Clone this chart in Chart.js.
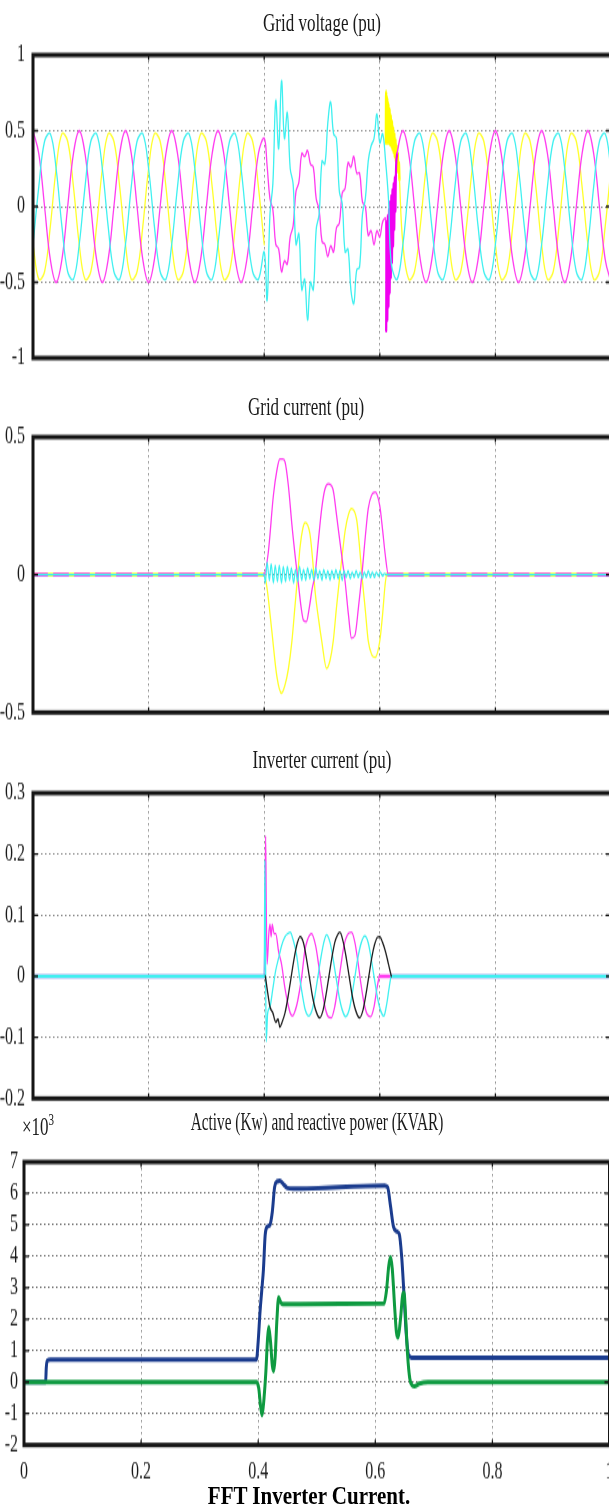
<!DOCTYPE html>
<html><head><meta charset="utf-8">
<script src="https://cdn.jsdelivr.net/npm/chart.js@4.4.1/dist/chart.umd.min.js"></script>
<style>
html,body{margin:0;padding:0;background:#fff;overflow:hidden;width:609px;height:1510px;}
#wrap{position:relative;width:609px;height:1510px;overflow:hidden;background:#fff;}
canvas{position:absolute;left:0;}
.t{position:absolute;z-index:5;white-space:nowrap;font-family:"Liberation Serif","Times New Roman",serif;font-size:17px;line-height:1;color:#1a1a1a;transform:translate(-50%,-50%) scaleY(1.5);}
.cap{position:absolute;z-index:5;white-space:nowrap;font-family:"Liberation Serif","Times New Roman",serif;font-weight:bold;font-size:21px;line-height:1;color:#000;transform:translate(-50%,-50%) scaleY(1.15);}
</style></head>
<body>
<div id="wrap">
  <div class="t" style="left:322px;top:23px">Grid voltage (pu)</div>
  <div class="t" style="left:306px;top:407px">Grid current (pu)</div>
  <div class="t" style="left:322px;top:760px">Inverter current (pu)</div>
  <div class="t" style="left:317px;top:1122px;transform:translate(-50%,-50%) scale(0.9,1.5)">Active (Kw) and reactive power (KVAR)</div>
  <div class="t" style="left:38px;top:1127px">×10<span style="font-size:11px;position:relative;top:-7px">3</span></div>
  <div class="cap" style="left:309px;top:1497px">FFT Inverter Current.</div>
</div>
<script>
// ================= DATA =================
// shared x (time, 0..1) tick values / labels
const xTickVals = [0, 0.2, 0.4, 0.6, 0.8, 1];
const xTickLabels = ['0', '0.2', '0.4', '0.6', '0.8', '1'];

// ---- Panel 1: Grid voltage (pu) ----
const gvTickVals = [-1, -0.5, 0, 0.5, 1];
const gvTickLabels = ['-1', '-0.5', '0', '0.5', '1'];
const tPre = [0,0.01,0.02,0.03,0.04,0.05,0.06,0.07,0.08,0.09,0.10,0.11,0.12,0.13,0.14,0.15,0.16,0.17,0.18,0.19,0.20,0.21,0.22,0.23,0.24,0.25,0.26,0.27,0.28,0.29,0.30,0.31,0.32,0.33,0.34,0.35,0.36,0.37,0.38,0.39,0.40];
const tFault = [0.405,0.410,0.415,0.420,0.425,0.430,0.435,0.440,0.445,0.450,0.455,0.460,0.465,0.470,0.475,0.480,0.485,0.490,0.495,0.500,0.505,0.510,0.515,0.520,0.525,0.530,0.535,0.540,0.545,0.550,0.555,0.560,0.565,0.570,0.575,0.580,0.585,0.590,0.595,0.600,0.605,0.610];
const tPost = [0.63,0.64,0.65,0.66,0.67,0.68,0.69,0.70,0.71,0.72,0.73,0.74,0.75,0.76,0.77,0.78,0.79,0.80,0.81,0.82,0.83,0.84,0.85,0.86,0.87,0.88,0.89,0.90,0.91,0.92,0.93,0.94,0.95,0.96,0.97,0.98,0.99,1.00];
const tYelPost = [0.64,0.65,0.66,0.67,0.68,0.69,0.70,0.71,0.72,0.73,0.74,0.75,0.76,0.77,0.78,0.79,0.80,0.81,0.82,0.83,0.84,0.85,0.86,0.87,0.88,0.89,0.90,0.91,0.92,0.93,0.94,0.95,0.96,0.97,0.98,0.99,1.00];

const vMagPre = [0.5,0.35,0,-0.35,-0.5,-0.35,0,0.35, 0.5,0.35,0,-0.35,-0.5,-0.35,0,0.35, 0.5,0.35,0,-0.35,-0.5,-0.35,0,0.35, 0.5,0.35,0,-0.35,-0.5,-0.35,0,0.35, 0.5,0.35,0,-0.35,-0.5,-0.35,0,0.35, 0.45];
const vCyaPre = [-0.25,0.13,0.43,0.48,0.25,-0.13,-0.43,-0.48, -0.25,0.13,0.43,0.48,0.25,-0.13,-0.43,-0.48, -0.25,0.13,0.43,0.48,0.25,-0.13,-0.43,-0.48, -0.25,0.13,0.43,0.48,0.25,-0.13,-0.43,-0.48, -0.25,0.13,0.43,0.48,0.25,-0.13,-0.43,-0.48, -0.30];
const vYelPre = [-0.25,-0.48,-0.43,-0.13,0.25,0.48,0.43,0.13, -0.25,-0.48,-0.43,-0.13,0.25,0.48,0.43,0.13, -0.25,-0.48,-0.43,-0.13,0.25,0.48,0.43,0.13, -0.25,-0.48,-0.43,-0.13,0.25,0.48,0.43,0.13, -0.25,-0.48,-0.43,-0.13,0.25,0.48,0.43,0.13, -0.25];

const vMagFault = [0.27,0.05,-0.02,-0.25,-0.28,-0.43,-0.36,-0.38,-0.20,-0.13, 0.10,0.16,0.35,0.33,0.37,0.28,0.26,0.05,-0.02,-0.23, -0.25,-0.33,-0.26,-0.30,-0.14,-0.11,0.09,0.12,0.29,0.26, 0.33,0.22,0.22,0.03,0.00,-0.19,-0.16,-0.25,-0.16,-0.20, -0.10,-0.08];
const vCyaFault = [-0.62,-0.05,0.15,0.70,0.38,0.83,0.45,0.62,0.25,0.15, -0.25,-0.18,-0.55,-0.48,-0.75,-0.50,-0.55,-0.15,-0.05,0.30, 0.28,0.55,0.69,0.48,0.45,0.10,0.02,-0.30,-0.28,-0.55, -0.64,-0.42,-0.40,-0.05,0.05,0.30,0.40,0.45,0.61,0.42, 0.48,0.30];

const tMagWedge = [0.611,0.612,0.613,0.614,0.615,0.616,0.617,0.618,0.619,0.620,0.621,0.622,0.623,0.624,0.625,0.626,0.627,0.628];
const vMagWedge = [-0.82,-0.10,-0.75,-0.06,-0.66,-0.02,-0.57,0.03,-0.47,0.07,-0.37,0.11,-0.26,0.15,-0.15,0.19,-0.03,0.23];
const tYelWedge = [0.6105,0.611,0.612,0.613,0.614,0.615,0.616,0.617,0.618,0.619,0.620,0.621,0.622,0.623,0.624,0.625,0.626,0.627,0.628,0.629,0.630,0.631,0.632,0.633,0.634];
const vYelWedge = [0.42,0.76,0.42,0.72,0.42,0.68,0.42,0.64,0.41,0.60,0.40,0.56,0.38,0.52,0.36,0.48,0.33,0.44,0.30,0.40,0.27,0.35,0.23,0.29,0.18];
const tCyaJoin = [0.615, 0.620];
const vCyaJoin = [0.05, -0.38];

const vMagPost = [0.35, 0.5,0.35,0,-0.35,-0.5,-0.35,0,0.35, 0.5,0.35,0,-0.35,-0.5,-0.35,0,0.35, 0.5,0.35,0,-0.35,-0.5,-0.35,0,0.35, 0.5,0.35,0,-0.35,-0.5,-0.35,0,0.35, 0.5,0.35,0,-0.35,-0.5];
const vCyaPost = [-0.48, -0.25,0.13,0.43,0.48,0.25,-0.13,-0.43,-0.48, -0.25,0.13,0.43,0.48,0.25,-0.13,-0.43,-0.48, -0.25,0.13,0.43,0.48,0.25,-0.13,-0.43,-0.48, -0.25,0.13,0.43,0.48,0.25,-0.13,-0.43,-0.48, -0.25,0.13,0.43,0.48,0.25];
const vYelPost = [-0.25,-0.48,-0.43,-0.13,0.25,0.48,0.43,0.13, -0.25,-0.48,-0.43,-0.13,0.25,0.48,0.43,0.13, -0.25,-0.48,-0.43,-0.13,0.25,0.48,0.43,0.13, -0.25,-0.48,-0.43,-0.13,0.25,0.48,0.43,0.13, -0.25,-0.48,-0.43,-0.13,0.25];

// ---- Panel 2: Grid current (pu) ----
const gcTickVals = [-0.5, 0, 0.5];
const gcTickLabels = ['-0.5', '0', '0.5'];
const gcMagT = [0,0.400,0.407,0.416,0.422,0.427,0.432,0.436,0.442,0.448,0.454,0.459,0.464,0.468,0.473,0.478,0.483,0.488,0.494,0.4995,0.505,0.511,0.519,0.525,0.531,0.536,0.540,0.546,0.551,0.557,0.563,0.569,0.575,0.580,0.586,0.592,0.600,0.605,0.609,0.615,1.0];
const gcMagV = [0,0,0.08,0.29,0.38,0.42,0.42,0.41,0.32,0.18,0.06,-0.03,-0.12,-0.165,-0.17,-0.12,-0.05,0,0.13,0.24,0.31,0.33,0.31,0.22,0.12,0.04,-0.025,-0.15,-0.23,-0.22,-0.12,0,0.14,0.24,0.29,0.30,0.25,0.16,0.08,0,0];
const gcYelT = [0,0.400,0.405,0.413,0.422,0.430,0.436,0.442,0.448,0.453,0.458,0.462,0.467,0.471,0.479,0.484,0.488,0.494,0.4995,0.508,0.514,0.5195,0.525,0.531,0.536,0.540,0.546,0.551,0.560,0.565,0.569,0.575,0.580,0.586,0.592,0.600,0.605,0.609,0.612,1.0];
const gcYelV = [0,0,-0.05,-0.2,-0.37,-0.43,-0.40,-0.34,-0.24,-0.12,0,0.10,0.17,0.19,0.15,0.05,-0.06,-0.16,-0.24,-0.34,-0.31,-0.24,-0.12,0,0.09,0.16,0.22,0.24,0.20,0.10,0,-0.13,-0.24,-0.29,-0.30,-0.24,-0.14,-0.04,0,0];
const gcCyaT = [0,0.400,0.402,0.405,0.409,0.412,0.416,0.419,0.423,0.426,0.430,0.433,0.437,0.440,0.444,0.447,0.451,0.454,0.458,0.461,0.465,0.468,0.472,0.475,0.479,0.482,0.486,0.489,0.493,0.496,0.500,0.503,0.507,0.510,0.514,0.517,0.521,0.524,0.528,0.531,0.535,0.538,0.542,0.545,0.549,0.552,0.556,0.559,0.563,0.566,0.570,0.573,0.577,0.580,0.584,0.587,0.591,0.594,0.598,0.601,0.605,0.608,0.612,1.0];
const gcCyaV = [0,0,-0.03,0.045,-0.02,0.04,-0.03,0.035,-0.025,0.035,-0.03,0.03,-0.025,0.03,-0.02,0.025,-0.03,0.02,-0.025,0.03,-0.02,0.02,-0.02,0.025,-0.015,0.02,-0.02,0.025,-0.015,0.015,-0.02,0.02,-0.015,0.015,-0.02,0.015,-0.015,0.02,-0.015,0.015,-0.02,0.015,-0.01,0.015,-0.015,0.01,-0.01,0.015,-0.01,0.01,-0.015,0.01,-0.01,0.015,-0.01,0.01,-0.01,0.01,-0.005,0.01,-0.005,0.005,0,0];

// ---- Panel 3: Inverter current (pu) ----
const icTickVals = [-0.2, -0.1, 0, 0.1, 0.2, 0.3];
const icTickLabels = ['-0.2', '-0.1', '0', '0.1', '0.2', '0.3'];
const icMagT = [0,0.400,0.4015,0.4025,0.4035,0.405,0.408,0.410,0.412,0.414,0.417,0.420,0.425,0.430,0.436,0.441,0.445,0.449,0.454,0.458,0.465,0.470,0.475,0.482,0.489,0.494,0.499,0.504,0.510,0.516,0.522,0.527,0.533,0.538,0.544,0.551,0.557,0.562,0.567,0.572,0.578,0.584,0.590,0.595,0.600,1.0];
const icMagV = [0,0,0.12,0.23,0.12,0.02,0.07,0.085,0.065,0.085,0.07,0.07,0.04,0.02,-0.02,-0.045,-0.06,-0.065,-0.055,-0.04,0,0.04,0.06,0.07,0.05,0.02,-0.015,-0.045,-0.065,-0.068,-0.05,-0.02,0.02,0.05,0.068,0.072,0.055,0.025,-0.01,-0.04,-0.062,-0.066,-0.05,-0.02,0,0];
const icCyaT = [0,0.400,0.4012,0.4022,0.4035,0.406,0.410,0.415,0.420,0.425,0.430,0.436,0.441,0.445,0.450,0.456,0.461,0.466,0.471,0.477,0.483,0.488,0.493,0.498,0.503,0.508,0.514,0.519,0.524,0.530,0.535,0.541,0.547,0.552,0.557,0.562,0.568,0.574,0.580,0.585,0.590,0.596,0.601,0.607,0.612,0.616,0.620,1.0];
const icCyaV = [0,0,0.19,0.05,-0.107,-0.06,-0.05,-0.02,0.01,0.03,0.05,0.065,0.07,0.072,0.06,0.035,0,-0.03,-0.055,-0.065,-0.055,-0.03,0,0.03,0.055,0.068,0.055,0.03,0,-0.035,-0.055,-0.066,-0.055,-0.03,0,0.03,0.055,0.066,0.055,0.03,0,-0.035,-0.055,-0.065,-0.045,-0.02,0,0];
const icBlkT = [0.402,0.405,0.410,0.415,0.420,0.424,0.427,0.431,0.436,0.441,0.446,0.451,0.456,0.462,0.468,0.473,0.478,0.483,0.489,0.496,0.502,0.507,0.512,0.517,0.522,0.527,0.531,0.537,0.542,0.547,0.552,0.558,0.565,0.571,0.576,0.581,0.586,0.591,0.596,0.600,0.605,0.610,0.615,0.620];
const icBlkV = [0,-0.02,-0.05,-0.06,-0.075,-0.07,-0.083,-0.075,-0.06,-0.035,-0.005,0.025,0.05,0.065,0.055,0.03,0,-0.03,-0.055,-0.068,-0.055,-0.03,0,0.03,0.055,0.068,0.072,0.055,0.03,0,-0.03,-0.055,-0.068,-0.055,-0.03,0,0.03,0.052,0.064,0.065,0.055,0.04,0.02,0];

// ---- Panel 4: Active (kW) and reactive power (kVAR), x10^3 ----
const pwTickVals = [-2, -1, 0, 1, 2, 3, 4, 5, 6, 7];
const pwTickLabels = ['-2', '-1', '0', '1', '2', '3', '4', '5', '6', '7'];
const pActT = [0,0.037,0.038,0.040,0.045,0.397,0.400,0.403,0.406,0.409,0.412,0.416,0.420,0.424,0.428,0.432,0.437,0.443,0.450,0.460,0.616,0.621,0.626,0.631,0.636,0.641,0.645,0.649,0.653,0.657,0.662,1.0];
const pActV = [0,0,0.45,0.68,0.72,0.72,1.3,2.2,2.9,3.6,4.7,4.95,5.0,5.4,6.2,6.38,6.4,6.3,6.17,6.15,6.25,6.2,5.6,4.95,4.8,4.7,4.0,2.8,1.5,0.85,0.78,0.78];
const pReaT = [0,0.397,0.401,0.404,0.4067,0.410,0.413,0.416,0.418,0.421,0.424,0.4265,0.429,0.432,0.435,0.438,0.442,0.615,0.619,0.623,0.626,0.629,0.633,0.636,0.639,0.643,0.647,0.649,0.652,0.655,0.659,0.663,0.667,0.675,0.690,1.0];
const pReaV = [0,0,-0.2,-0.75,-1.05,-0.5,0.3,1.4,1.75,1.3,0.55,0.35,0.8,2.0,2.7,2.55,2.48,2.5,2.9,3.7,3.97,3.6,2.4,1.6,1.42,2.0,2.8,2.85,2.0,0.9,0.1,-0.1,-0.13,-0.05,0,0];

// ================= RENDER =================
const COL = { mag: '#ff3cf0', cya: '#3ff0f0', yel: '#ffff2a', blk: '#1e1e1e', blue: '#1b3c8e', green: '#0e9a40' };
const pts = (t, v) => t.map((x, i) => ({ x: x, y: v[i] }));
const isZeroSeg = c => c.p0.parsed.y === 0 && c.p1.parsed.y === 0;
const inWedge = c => c.p0.parsed.x >= 0.6105 && c.p1.parsed.x <= 0.634;

const K = 1.5;      // vertical stretch of the original figure
const CW = 640;     // canvas width (plot runs past the right window edge)
const tickFont = { family: '"Liberation Serif", "Times New Roman", serif', size: 16 };

const framePlugin = {
  id: 'frame',
  afterDraw(chart) {
    const { ctx, chartArea: a, scales } = chart;
    ctx.save();
    ctx.strokeStyle = '#151515';
    ctx.lineWidth = 1.3;
    ctx.beginPath();
    scales.x.ticks.forEach(t => {
      const px = scales.x.getPixelForValue(t.value);
      ctx.moveTo(px, a.top); ctx.lineTo(px, a.top + 3.5);
      ctx.moveTo(px, a.bottom); ctx.lineTo(px, a.bottom - 3.5);
    });
    scales.y.ticks.forEach(t => {
      const py = scales.y.getPixelForValue(t.value);
      ctx.moveTo(a.left, py); ctx.lineTo(a.left + 5, py);
      ctx.moveTo(a.right, py); ctx.lineTo(a.right - 5, py);
    });
    ctx.stroke();
    ctx.lineWidth = 3;
    ctx.strokeRect(a.left, a.top, a.right - a.left, a.bottom - a.top);
    ctx.restore();
  }
};

function panel(cfg) {
  const c = document.createElement('canvas');
  const hb = Math.round((cfg.cssBottom - cfg.cssTop) / K);
  c.width = CW; c.height = hb;
  c.style.cssText = 'position:absolute;left:0;top:' + cfg.cssTop + 'px;width:' + CW + 'px;height:' + (hb * K) + 'px;';
  document.getElementById('wrap').appendChild(c);
  const padTop = (cfg.areaTop - cfg.cssTop) / K;
  const padBottom = hb - (cfg.areaBottom - cfg.cssTop) / K - cfg.xAxisH;
  return new Chart(c, {
    type: 'line',
    data: { datasets: cfg.datasets },
    options: {
      responsive: false, animation: false, devicePixelRatio: 1, events: [],
      layout: { padding: { left: 0, right: CW - cfg.areaRight, top: padTop, bottom: padBottom } },
      plugins: { legend: { display: false }, tooltip: { enabled: false }, title: { display: false } },
      elements: { point: { radius: 0 }, line: { borderJoinStyle: 'round', borderCapStyle: 'round', fill: false } },
      scales: {
        x: {
          type: 'linear', min: 0, max: 1,
          afterBuildTicks: s => { s.ticks = xTickVals.map(v => ({ value: v })); },
          afterFit: s => { s.height = cfg.xAxisH; },
          ticks: { display: cfg.showX, autoSkip: false, maxRotation: 0, padding: 9, font: tickFont, color: '#1a1a1a',
                   callback: (v, i) => xTickLabels[i] },
          grid: { color: '#8c8c8c', lineWidth: 1, drawTicks: false },
          border: { display: false, dash: [1.5, 2.5] }
        },
        y: {
          type: 'linear', min: cfg.yVals[0], max: cfg.yVals[cfg.yVals.length - 1],
          afterBuildTicks: s => { s.ticks = cfg.yVals.map(v => ({ value: v })); },
          afterFit: s => { s.width = cfg.areaLeft; },
          ticks: { autoSkip: false, padding: cfg.yPad, font: tickFont, color: '#1a1a1a',
                   callback: (v, i) => cfg.yLabels[i] },
          grid: { color: cfg.yGrid, lineWidth: 1, drawTicks: false },
          border: { display: false, dash: [1.5, 2.5] }
        }
      }
    },
    plugins: [framePlugin]
  });
}

// Panel 1
panel({
  cssTop: 25, cssBottom: 388, areaTop: 55, areaBottom: 358, areaLeft: 33, areaRight: 611,
  xAxisH: 0, showX: false, yVals: gvTickVals, yLabels: gvTickLabels, yPad: 8, yGrid: '#8c8c8c',
  datasets: [
    { label: 'Vc', data: [...pts(tPre, vCyaPre), ...pts(tFault, vCyaFault), ...pts(tCyaJoin, vCyaJoin), ...pts(tPost, vCyaPost)],
      borderColor: COL.cya, borderWidth: 1.3, tension: 0.4 },
    { label: 'Va', data: [...pts(tPre, vMagPre), ...pts(tFault, vMagFault), ...pts(tMagWedge, vMagWedge), ...pts(tPost, vMagPost)],
      borderColor: COL.mag, borderWidth: 1.3, tension: 0.4,
      segment: { borderWidth: c => inWedge(c) ? 2.2 : undefined, borderColor: c => inWedge(c) ? '#f000f0' : undefined } },
    { label: 'Vb', data: [...pts(tPre, vYelPre), { x: 0.5, y: null }, ...pts(tYelWedge, vYelWedge), ...pts(tYelPost, vYelPost)],
      borderColor: COL.yel, borderWidth: 1.3, tension: 0.4,
      segment: { borderWidth: c => inWedge(c) ? 2.4 : undefined, borderColor: c => inWedge(c) ? '#ffff00' : undefined } }
  ]
});

// Panel 2
panel({
  cssTop: 407, cssBottom: 742, areaTop: 437, areaBottom: 712, areaLeft: 33, areaRight: 611,
  xAxisH: 0, showX: false, yVals: gcTickVals, yLabels: gcTickLabels, yPad: 8, yGrid: '#8c8c8c',
  datasets: [
    { label: 'Ic', data: pts(gcCyaT, gcCyaV), borderColor: COL.cya, borderWidth: 1.2, cubicInterpolationMode: 'monotone' },
    { label: 'Ia', data: pts(gcMagT, gcMagV), borderColor: COL.mag, borderWidth: 1.3, cubicInterpolationMode: 'monotone',
      segment: { borderDash: c => isZeroSeg(c) ? [14, 7] : undefined, borderWidth: c => isZeroSeg(c) ? 2.6 : undefined } },
    { label: 'Ib', data: pts(gcYelT, gcYelV), borderColor: COL.yel, borderWidth: 1.3, cubicInterpolationMode: 'monotone',
      segment: { borderWidth: c => isZeroSeg(c) ? 2.6 : undefined } }
  ]
});

// Panel 3
panel({
  cssTop: 763, cssBottom: 1128, areaTop: 793, areaBottom: 1098, areaLeft: 33, areaRight: 611,
  xAxisH: 0, showX: false, yVals: icTickVals, yLabels: icTickLabels, yPad: 8, yGrid: '#8c8c8c',
  datasets: [
    { label: 'Iinv_b', data: pts(icBlkT, icBlkV), borderColor: COL.blk, borderWidth: 1.3, cubicInterpolationMode: 'monotone' },
    { label: 'Iinv_c', data: pts(icCyaT, icCyaV), borderColor: COL.cya, borderWidth: 1.3, cubicInterpolationMode: 'monotone',
      segment: { borderWidth: c => isZeroSeg(c) ? 2.6 : undefined } },
    { label: 'Iinv_a', data: pts(icMagT, icMagV), borderColor: COL.mag, borderWidth: 1.3, cubicInterpolationMode: 'monotone',
      segment: { borderWidth: c => isZeroSeg(c) ? 2.6 : undefined } }
  ]
});

// Panel 4
panel({
  cssTop: 1132, cssBottom: 1510, areaTop: 1162, areaBottom: 1445, areaLeft: 24, areaRight: 609.5,
  xAxisH: 30, showX: true, yVals: pwTickVals, yLabels: pwTickLabels, yPad: 6, yGrid: '#6a6a6a',
  datasets: [
    { label: 'Q (kVAR)', data: pts(pReaT, pReaV), borderColor: COL.green, borderWidth: 3, cubicInterpolationMode: 'monotone' },
    { label: 'P (kW)', data: pts(pActT, pActV), borderColor: COL.blue, borderWidth: 3, cubicInterpolationMode: 'monotone' }
  ]
});
</script>
</body></html>
